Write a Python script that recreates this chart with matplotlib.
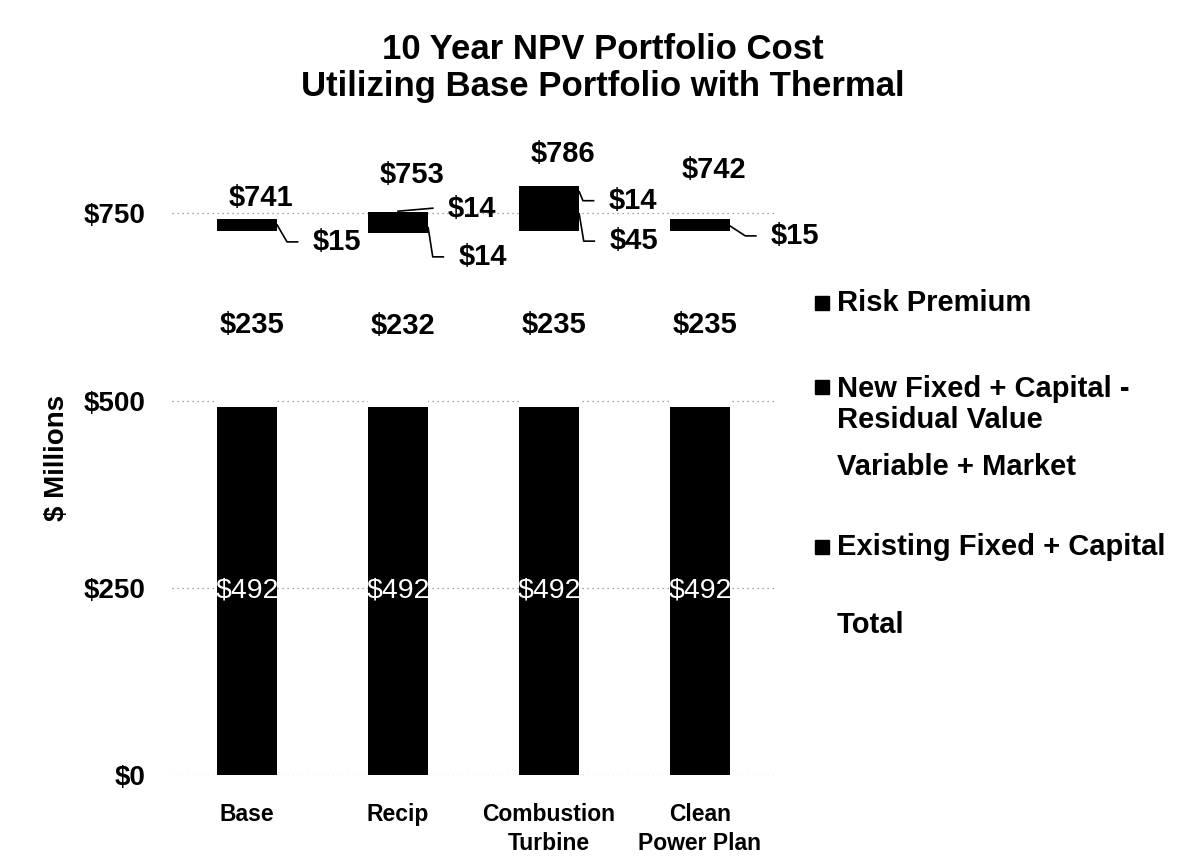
import matplotlib
matplotlib.use("Agg")
import matplotlib.pyplot as plt
from matplotlib.patches import Rectangle
import numpy as np

plt.rcParams['font.family'] = ['Liberation Sans', 'DejaVu Sans']

# ---------------- data ----------------
categories = ["Base", "Recip", "Combustion\nTurbine", "Clean\nPower Plan"]
existing_fixed = [492, 492, 492, 492]
variable_market = [235, 232, 235, 235]
new_fixed = [0, 14, 45, 0]
risk_premium = [15, 14, 14, 15]
totals = [741, 753, 786, 742]
yticks = [0, 250, 500, 750]
ytick_labels = ["$0", "$250", "$500", "$750"]
series_names = ["Risk Premium", "New Fixed + Capital -\nResidual Value",
                "Variable + Market", "Existing Fixed + Capital", "Total"]

# ---------------- layout (label placement) ----------------
total_label_dy = [29, 48, 44, 66]
# leader lines: (start_x, start_dy_from_segment_mid, elbow_x, label_y)
risk_leaders = [(0.20, 0, 0.265, 712), (0.00, 8, 0.23, 756),
                (0.20, 0, 0.225, 767), (0.19, 0, 0.30, 720)]
new_leaders = [None, (0.20, 0, 0.23, 692), (0.20, 0, 0.23, 713), None]

W, H = 1182, 858
fig = plt.figure(figsize=(W / 100, H / 100), dpi=100)
ax = fig.add_axes([171.5 / W, (H - 775) / H, 604 / W, 599 / H])

x = np.arange(len(categories))
bw = 0.4
ex = np.array(existing_fixed)
va_ = np.array(variable_market)
nf = np.array(new_fixed)
rp = np.array(risk_premium)

ax.bar(x, ex, bw, color="black", zorder=3)
ax.bar(x, va_, bw, bottom=ex, color="white", zorder=3)
ax.bar(x, nf, bw, bottom=ex + va_, color="black", zorder=3)
ax.bar(x, rp, bw, bottom=ex + va_ + nf, color="black", zorder=3)

ax.set_xlim(-0.5, 3.5)
ax.set_ylim(0, 800)
ax.set_yticks(yticks)
ax.set_yticklabels(ytick_labels, fontsize=20, fontweight="bold")
ax.set_xticks(x)
ax.set_xticklabels(categories, fontsize=16.5, fontweight="bold", linespacing=1.35)
ax.tick_params(axis="y", length=0, pad=19)
ax.tick_params(axis="x", length=0, pad=20)
for s in ax.spines.values():
    s.set_visible(False)
ax.yaxis.grid(True, linestyle=(0, (1, 3)), color="#888888", linewidth=0.9, zorder=0)
ax.set_axisbelow(True)

lab = dict(fontsize=21, fontweight="bold", color="black")

for i in range(len(categories)):
    # existing fixed label (white)
    ax.text(x[i], ex[i] / 2, f"${existing_fixed[i]}", ha="center", va="center",
            fontsize=20.5, color="white", zorder=5)
    # variable label
    ax.text(x[i] + 0.03, ex[i] + va_[i] / 2 - 9, f"${variable_market[i]}",
            ha="center", va="center", zorder=5, **lab)
    # total label
    ax.text(x[i] + 0.09, totals[i] + total_label_dy[i], f"${totals[i]}",
            ha="center", va="center", zorder=5, **lab)
    # risk premium leader + label
    sx, sdy, elx, ly = risk_leaders[i]
    mid = ex[i] + va_[i] + nf[i] + rp[i] / 2 + sdy
    if sx == 0.0:
        xs = [x[i] + sx, x[i] + elx]
        ys = [mid, ly + 1]
        tx = x[i] + elx + 0.10
    else:
        xs = [x[i] + sx, x[i] + elx, x[i] + elx + 0.07]
        ys = [mid, ly, ly]
        tx = x[i] + elx + 0.17
    ax.plot(xs, ys, color="black", lw=1.2, zorder=4)
    ax.text(tx, ly, f"${risk_premium[i]}", ha="left", va="center", zorder=5, **lab)
    # new fixed leader + label
    if new_leaders[i] is not None:
        sx, sdy, elx, ly = new_leaders[i]
        mid = ex[i] + va_[i] + nf[i] / 2 + sdy
        ax.plot([x[i] + sx, x[i] + elx, x[i] + elx + 0.07], [mid, ly, ly],
                color="black", lw=1.2, zorder=4)
        ax.text(x[i] + elx + 0.17, ly, f"${new_fixed[i]}", ha="left",
                va="center", zorder=5, **lab)

# y label
fig.text(57 / W, 1 - 458 / H, "$ Millions", rotation=90, ha="center", va="center",
         fontsize=20, fontweight="bold")

# title
fig.text(603 / W, 1 - 68 / H,
         "10 Year NPV Portfolio Cost\nUtilizing Base Portfolio with Thermal",
         ha="center", va="center", fontsize=25, fontweight="bold", linespacing=1.15)

# legend (manual)
leg_y = [303, 404.5, 467, 547, 625]
leg_marker = [True, True, False, True, False]
for name, ly, mk in zip(series_names, leg_y, leg_marker):
    fig.text(837 / W, 1 - ly / H, name, ha="left", va="center", fontsize=21,
             fontweight="bold", linespacing=1.15)
    if mk:
        my = ly if "\n" not in name else 387
        fig.add_artist(Rectangle(((822 - 7) / W, 1 - (my + 7) / H), 14 / W, 14 / H,
                                 transform=fig.transFigure, color="black"))

fig.savefig("out.png", dpi=100, facecolor="white")
